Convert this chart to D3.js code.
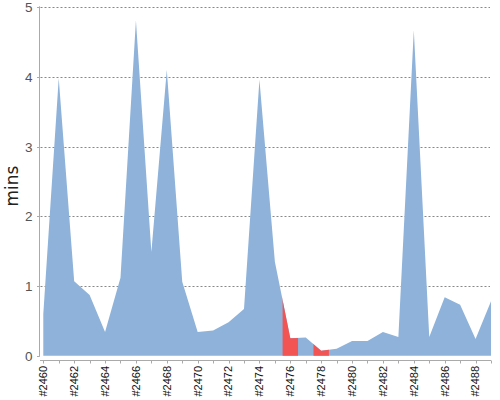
<!DOCTYPE html>
<html>
<head>
<meta charset="utf-8">
<script src="https://cdn.jsdelivr.net/npm/d3@7"></script>
<style>
  html, body { margin: 0; padding: 0; background: #fff; }
  svg { display: block; }
</style>
</head>
<body>
<svg id="chart" width="500" height="400"></svg>
<script>
// Data
const builds = [2460,2461,2462,2463,2464,2465,2466,2467,2468,2469,2470,2471,2472,2473,2474,2475,2476,2477,2478,2479,2480,2481,2482,2483,2484,2485,2486,2487,2488,2489];
const durations = [0.60,3.98,1.07,0.87,0.34,1.12,4.81,1.49,4.10,1.06,0.34,0.36,0.48,0.67,3.96,1.35,0.25,0.26,0.07,0.10,0.21,0.21,0.34,0.27,4.67,0.27,0.84,0.73,0.24,0.78];
const failedBuilds = [2476, 2478];
const yTicks = [0,1,2,3,4,5];
const yLabel = "mins";

const svg = d3.select("#chart");
const plotLeft = 39.5, plotRight = 491, plotTop = 7.3, plotBottom = 355.7;

const x = d3.scaleLinear().domain([builds[0], builds[builds.length-1]]).range([43.3, 491]);
const y = d3.scaleLinear().domain([0,5]).range([plotBottom, plotTop]);

const data = builds.map((b,i) => ({b, v: durations[i]}));

// gridlines
svg.append("g").selectAll("line").data(yTicks.filter(t => t > 0)).join("line")
  .attr("x1", plotLeft + 1).attr("x2", 490)
  .attr("y1", d => Math.round(y(d)) + 0.5).attr("y2", d => Math.round(y(d)) + 0.5)
  .attr("stroke", "#888").attr("stroke-width", 1).attr("stroke-dasharray", "2,2");

const area = d3.area().x(d => x(d.b)).y0(y(0)).y1(d => y(d.v));

svg.append("path").datum(data).attr("d", area).attr("fill", "#8EB2D9");

// red bands for failed builds
const defs = svg.append("defs");
failedBuilds.forEach((fb, k) => {
  defs.append("clipPath").attr("id", "clip" + k).append("rect")
    .attr("x", x(fb - 0.5)).attr("width", x(fb + 0.5) - x(fb - 0.5))
    .attr("y", 0).attr("height", 400);
  svg.append("path").datum(data).attr("d", area).attr("fill", "#F25454")
    .attr("clip-path", "url(#clip" + k + ")");
});

// y axis
const yAxis = svg.append("g");
yAxis.append("line").attr("x1", plotLeft).attr("x2", plotLeft)
  .attr("y1", plotTop - 1).attr("y2", plotBottom + 1).attr("stroke", "#aaa");
yAxis.selectAll("line.t").data(yTicks).join("line").attr("class", "t")
  .attr("x1", plotLeft - 2.5).attr("x2", plotLeft)
  .attr("y1", d => Math.round(y(d)) + 0.5).attr("y2", d => Math.round(y(d)) + 0.5)
  .attr("stroke", "#aaa");
yAxis.selectAll("text").data(yTicks).join("text")
  .attr("x", 32.5).attr("y", d => y(d))
  .attr("dy", "0.36em").attr("text-anchor", "end")
  .attr("font-family", "'Liberation Sans', Arial, sans-serif").attr("font-size", 13.5)
  .attr("fill", "#555").text(d => d);

// x axis
const xAxisY = 360.5;
const xAxis = svg.append("g");
xAxis.append("line").attr("x1", plotLeft + 0.5).attr("x2", plotRight)
  .attr("y1", xAxisY).attr("y2", xAxisY).attr("stroke", "#aaa");
xAxis.selectAll("line.t").data(builds).join("line").attr("class", "t")
  .attr("x1", d => Math.round(x(d)) + 0.5).attr("x2", d => Math.round(x(d)) + 0.5)
  .attr("y1", xAxisY).attr("y2", xAxisY + 3).attr("stroke", "#aaa");
xAxis.selectAll("text").data(builds.filter(b => b % 2 === 0)).join("text")
  .attr("transform", d => `translate(${x(d)},366) rotate(-90)`)
  .attr("dy", "0.35em").attr("text-anchor", "end")
  .attr("font-family", "'Liberation Sans', Arial, sans-serif").attr("font-size", 11)
  .attr("fill", "#111").text(d => "#" + d);

// y label
svg.append("text").attr("transform", "translate(18,186) rotate(-90)")
  .attr("text-anchor", "middle")
  .attr("font-family", "'DejaVu Sans', sans-serif").attr("font-size", 17)
  .attr("fill", "#222").text(yLabel);
</script>
</body>
</html>
